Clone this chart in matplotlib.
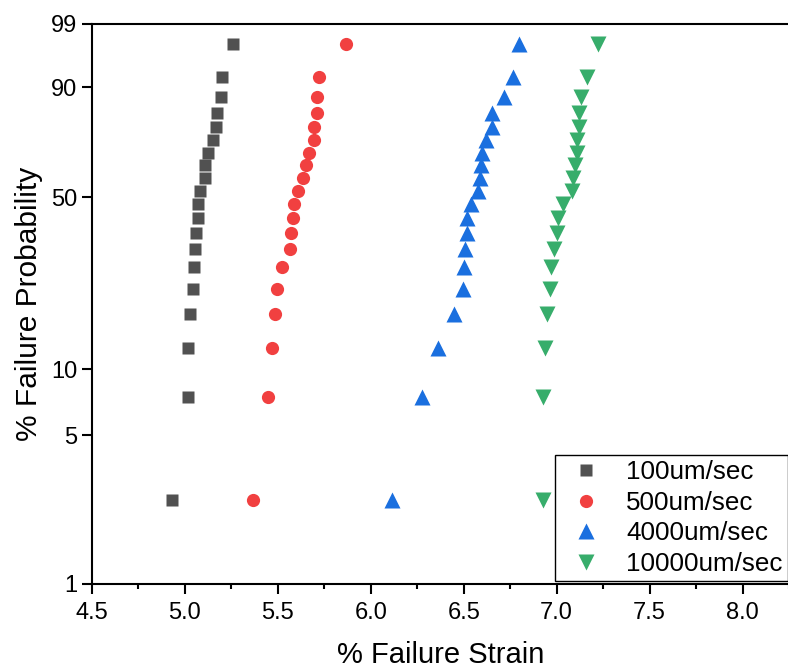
import numpy as np
import matplotlib
matplotlib.use('Agg')
import matplotlib.pyplot as plt

plt.rcParams['font.family'] = ['Liberation Sans', 'DejaVu Sans']

# plotting positions (%) shared by every rate, 20 specimens each
prob = [2.5, 7.5, 12.5, 17.5, 22.5, 27.5, 32.5, 37.5, 42.5, 47.5,
        52.5, 57.5, 62.5, 67.5, 72.5, 77.5, 82.5, 87.5, 92.5, 97.5]

strain_100 = [4.930, 5.014, 5.018, 5.027, 5.043, 5.048, 5.052, 5.061, 5.068, 5.068,
              5.082, 5.108, 5.108, 5.122, 5.149, 5.167, 5.172, 5.192, 5.200, 5.256]
strain_500 = [5.364, 5.445, 5.471, 5.484, 5.496, 5.522, 5.563, 5.572, 5.579, 5.586,
              5.609, 5.636, 5.654, 5.667, 5.694, 5.695, 5.711, 5.713, 5.720, 5.866]
strain_4000 = [6.113, 6.278, 6.364, 6.450, 6.498, 6.500, 6.507, 6.518, 6.518, 6.538,
               6.575, 6.586, 6.591, 6.600, 6.622, 6.654, 6.654, 6.719, 6.763, 6.799]
strain_10000 = [6.925, 6.925, 6.935, 6.946, 6.966, 6.969, 6.984, 7.004, 7.009, 7.036,
                7.081, 7.086, 7.100, 7.108, 7.109, 7.118, 7.118, 7.131, 7.163, 7.220]

labels = ['100um/sec', '500um/sec', '4000um/sec', '10000um/sec']
yticks = [1, 5, 10, 50, 90, 99]


def weibull(p):
    p = np.clip(np.asarray(p, dtype=float), 1e-6, 100 - 1e-6) / 100.0
    return np.log(-np.log(1 - p))


def weibull_inv(y):
    return 100.0 * (1 - np.exp(-np.exp(y)))


fig = plt.figure(figsize=(7.88, 6.71), dpi=100)
ax = fig.add_axes([92 / 788, 87 / 671, 697 / 788, 560 / 671])
ax.set_yscale('function', functions=(weibull, weibull_inv))

ax.plot(strain_100, prob, 's', color='#515151', ms=8.5, mec='none', label=labels[0])
ax.plot(strain_500, prob, 'o', color='#F14040', ms=9.5, mec='none', label=labels[1])
ax.plot(strain_4000, prob, '^', color='#1A6FDF', ms=11, mec='none', label=labels[2])
ax.plot(strain_10000, prob, 'v', color='#37AD6B', ms=11, mec='none', label=labels[3])

ax.set_xlim(4.5, 4.5 + 697 / 186)
ax.set_ylim(1, 99)
ax.set_yticks(yticks)
ax.set_yticklabels([str(t) for t in yticks])
ax.set_xticks(np.arange(4.5, 8.01, 0.5))
ax.set_xticks(np.arange(4.75, 8.3, 0.5), minor=True)
ax.yaxis.set_minor_locator(matplotlib.ticker.NullLocator())

ax.spines['right'].set_visible(False)
for s in ['left', 'bottom', 'top']:
    ax.spines[s].set_linewidth(1.5)
ax.tick_params(axis='both', which='major', direction='out', length=7, width=1.5,
               labelsize=17, colors='black')
ax.tick_params(axis='x', which='major', pad=6)
ax.tick_params(axis='x', which='minor', direction='out', length=3.5, width=1.5)
ax.tick_params(top=False, right=False)

ax.set_xlabel('% Failure Strain', fontsize=21, labelpad=12)
ax.set_ylabel('% Failure Probability', fontsize=21.5, labelpad=6)

leg = ax.legend(loc='lower left', bbox_to_anchor=(555 / 788, 90 / 671),
                bbox_transform=fig.transFigure, fontsize=18.7, frameon=True,
                fancybox=False, edgecolor='black', framealpha=1,
                borderaxespad=0, handletextpad=0.55, labelspacing=0.25,
                borderpad=0.2)
leg.get_frame().set_linewidth(1.0)

fig.savefig('out.png', dpi=100)
